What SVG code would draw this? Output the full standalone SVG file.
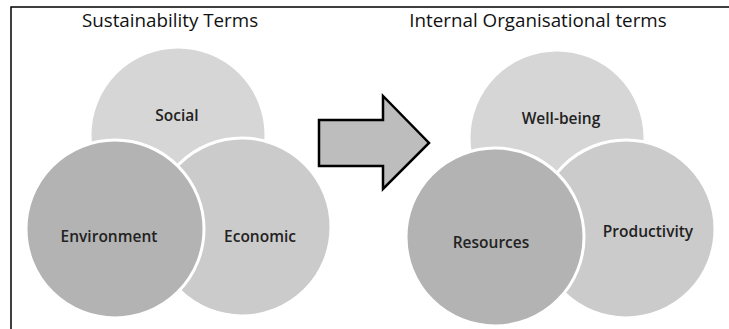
<svg xmlns="http://www.w3.org/2000/svg" width="729" height="329" viewBox="0 0 729 329">
<style>
.title{font-family:"Open Sans","Liberation Sans",sans-serif;font-size:18.8px;fill:#111;text-anchor:middle}
.lbl{font-family:"Open Sans","Liberation Sans",sans-serif;font-size:15.5px;font-weight:600;fill:#222;text-anchor:middle}
.c{stroke:#fff;stroke-width:3}
.top{fill:#d6d6d6}
.dark{fill:#b3b3b3}
.mid{fill:#cbcbcb}
</style>
<rect x="0" y="0" width="729" height="329" fill="#fff"/>
<path d="M11 329 V7 H729" fill="none" stroke="#000" stroke-width="1.5"/>
<text class="title" x="170" y="27">Sustainability Terms</text>
<text class="title" x="538" y="27">Internal Organisational terms</text>
<g id="social"><circle class="c top" cx="178" cy="135" r="88"/><text class="lbl" x="177" y="121">Social</text></g>
<g id="economic"><circle class="c mid" cx="242" cy="227" r="89"/><text class="lbl" x="260" y="242">Economic</text></g>
<g id="environment"><circle class="c dark" cx="115" cy="229" r="89"/><text class="lbl" x="109" y="242">Environment</text></g>
<g id="wellbeing"><circle class="c top" cx="557" cy="138" r="88"/><text class="lbl" x="561" y="124">Well-being</text></g>
<g id="productivity"><circle class="c mid" cx="626" cy="229" r="89"/><text class="lbl" x="648" y="237">Productivity</text></g>
<g id="resources"><circle class="c dark" cx="495" cy="237" r="89"/><text class="lbl" x="491" y="248">Resources</text></g>
<g id="connectors">
<polygon points="319,120 383,120 383,96 429,143 383,189 383,166 319,166" fill="#bdbdbd" stroke="#000" stroke-width="2.5" stroke-linejoin="miter"/>
</g>
</svg>
